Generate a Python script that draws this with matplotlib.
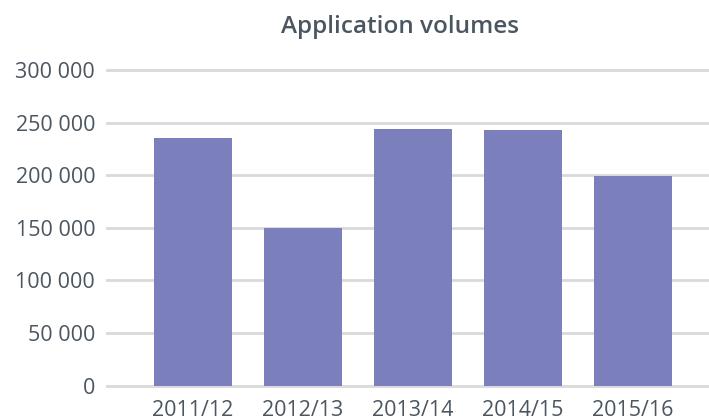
import matplotlib
matplotlib.use("Agg")
import matplotlib.pyplot as plt
from matplotlib.ticker import FuncFormatter

categories = ["2011/12", "2012/13", "2013/14", "2014/15", "2015/16"]
volumes = [235000, 149500, 243500, 242700, 199000]
yticks = [0, 50000, 100000, 150000, 200000, 250000, 300000]

text_color = "#4b5660"
bar_color = "#7b7fbc"
grid_color = "#d9d9db"

fig = plt.figure(figsize=(7.09, 4.19), dpi=100)
ax = fig.add_axes([107/709, 1 - 385.7/419, 1 - 107/709, (385.7 - 70)/419])

x = list(range(len(categories)))
ax.bar(x, volumes, width=0.71, color=bar_color, zorder=3)
ax.set_xlim(-0.78, 4.69)
ax.set_ylim(0, 300000)
ax.set_yticks(yticks)
ax.yaxis.set_major_formatter(FuncFormatter(lambda v, p: f"{int(v):,}".replace(",", " ")))
ax.set_xticks(x)
ax.set_xticklabels(categories)

ax.grid(axis="y", color=grid_color, linewidth=2, zorder=0)
for gl in ax.get_ygridlines():
    gl.set_clip_on(False)
for s in ax.spines.values():
    s.set_visible(False)
ax.tick_params(axis="both", length=0, labelsize=15.5, labelcolor=text_color)
ax.tick_params(axis="y", pad=8.5)
ax.tick_params(axis="x", pad=10.5)
for lab in ax.get_xticklabels() + ax.get_yticklabels():
    lab.set_fontfamily("Open Sans")

fig.text(400/709, 1 - 27/419, "Application volumes", ha="center", va="center",
         fontsize=17.5, color=text_color, fontfamily="Open Sans", fontweight=600)

fig.savefig("out.png", dpi=100)
